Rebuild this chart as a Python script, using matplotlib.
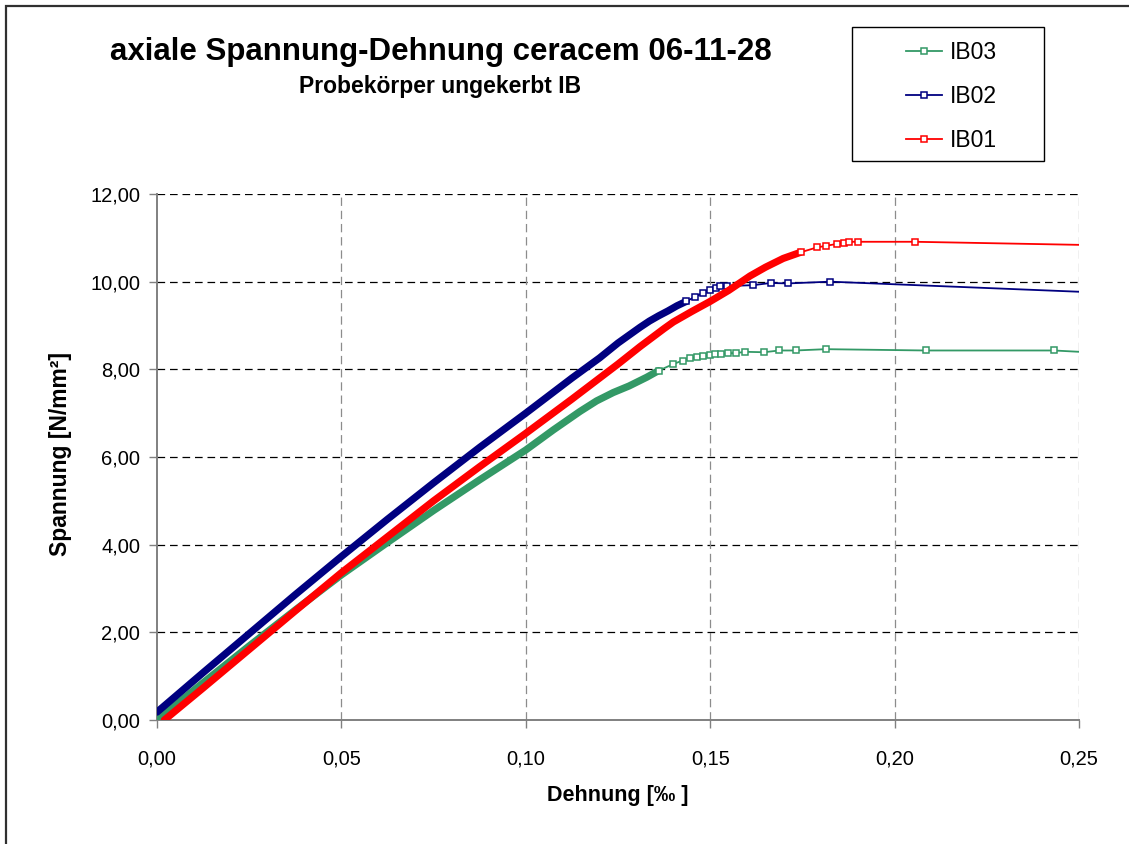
import matplotlib
matplotlib.use("Agg")
import matplotlib.pyplot as plt
from matplotlib.lines import Line2D
from matplotlib.patches import Rectangle
from matplotlib.ticker import FuncFormatter

plt.rcParams['font.family'] = ['Liberation Sans', 'DejaVu Sans']
plt.rcParams['lines.scale_dashes'] = False

# ---- data (strain in per mille, stress in N/mm2) ----
series_labels = ["IB03", "IB02", "IB01"]

ib03_strain = [0.000, 0.0125, 0.025, 0.0375, 0.050, 0.0625, 0.075, 0.0875, 0.100, 0.1075,
               0.1147, 0.1192, 0.1237, 0.128, 0.1328, 0.136, 0.140, 0.1425, 0.1445, 0.1465,
               0.148, 0.150, 0.1513, 0.153, 0.1548, 0.157, 0.1594, 0.1646, 0.1687, 0.1732,
               0.1813, 0.2084, 0.2432, 0.250]
ib03_stress = [0.00, 0.85, 1.69, 2.51, 3.31, 4.05, 4.78, 5.48, 6.16, 6.62,
               7.04, 7.28, 7.47, 7.62, 7.82, 7.97, 8.12, 8.20, 8.25, 8.28,
               8.30, 8.33, 8.34, 8.34, 8.37, 8.37, 8.40, 8.39, 8.43, 8.43,
               8.46, 8.43, 8.43, 8.40]

ib02_strain = [0.000, 0.0125, 0.025, 0.0375, 0.050, 0.0625, 0.075, 0.0875, 0.100, 0.1125,
               0.120, 0.125, 0.131, 0.1335, 0.136, 0.1385, 0.141, 0.1435, 0.146, 0.148,
               0.150, 0.1515, 0.1527, 0.1545, 0.1616, 0.1664, 0.1711, 0.1825, 0.250]
ib02_stress = [0.18, 1.08, 1.97, 2.86, 3.73, 4.58, 5.41, 6.22, 7.00, 7.80,
               8.26, 8.60, 8.96, 9.10, 9.22, 9.33, 9.45, 9.55, 9.66, 9.74,
               9.82, 9.86, 9.89, 9.90, 9.92, 9.97, 9.96, 10.00, 9.77]

ib01_strain = [0.002, 0.0125, 0.025, 0.0375, 0.050, 0.0625, 0.075, 0.0875, 0.100, 0.1125,
               0.125, 0.131, 0.1375, 0.140, 0.145, 0.150, 0.155, 0.158, 0.1608, 0.165,
               0.1698, 0.1745, 0.1789, 0.1815, 0.1843, 0.1862, 0.1876, 0.190, 0.2055, 0.250]
ib01_stress = [0.00, 0.73, 1.61, 2.49, 3.36, 4.18, 5.00, 5.78, 6.54, 7.32,
               8.12, 8.52, 8.93, 9.08, 9.32, 9.55, 9.80, 9.97, 10.13, 10.33,
               10.53, 10.67, 10.78, 10.82, 10.86, 10.89, 10.91, 10.91, 10.91, 10.84]

x_ticks = [0.00, 0.05, 0.10, 0.15, 0.20, 0.25]
y_ticks = [0, 2, 4, 6, 8, 10, 12]

title = "axiale Spannung-Dehnung ceracem 06-11-28"
subtitle = "Probekörper ungekerbt IB"
x_label = "Dehnung [‰ ]"
y_label = "Spannung [N/mm²]"

# ---- style ----
colors = {"IB03": "#339966", "IB02": "#000080", "IB01": "#FF0000"}
dense_count = {"IB03": 16, "IB02": 18, "IB01": 22}

W, H = 1129, 844
fig = plt.figure(figsize=(W / 100, H / 100), dpi=100)
fig.patch.set_facecolor("white")

# outer chart frame (only left/top visible, rest beyond the image)
fig.patches.append(Rectangle((6 / W, -0.05), 1.2, 1.05 - 6 / H, transform=fig.transFigure,
                             fill=False, edgecolor="#303030", linewidth=1.6, zorder=0))

ax = fig.add_axes([157 / W, 1 - 720 / H, (1079 - 157) / W, (720 - 194) / H])
ax.set_xlim(0, 0.25)
ax.set_ylim(0, 12)
ax.set_xticks(x_ticks)
ax.set_yticks(y_ticks)
fmt = FuncFormatter(lambda v, p: f"{v:.2f}".replace(".", ","))
ax.xaxis.set_major_formatter(fmt)
ax.yaxis.set_major_formatter(fmt)

for s in ["top", "right"]:
    ax.spines[s].set_visible(False)
for s in ["left", "bottom"]:
    ax.spines[s].set_color("#808080")
    ax.spines[s].set_linewidth(1.4)
    ax.spines[s].set_zorder(1)

ax.tick_params(axis="both", direction="out", length=6, width=1.0, color="#808080",
               labelsize=14.5, labelcolor="black")
ax.tick_params(axis="x", pad=15)
ax.tick_params(axis="y", pad=6)

# grid
for yv in y_ticks[1:]:
    ax.axhline(yv, color="black", lw=0.9, linestyle=(0, (5.5, 3.5)), zorder=0.5)
for xv in x_ticks[1:]:
    ax.axvline(xv, color="#8c8c8c", lw=0.9, linestyle=(0, (6, 3.5)), zorder=0.5)

data = {
    "IB03": (ib03_strain, ib03_stress),
    "IB02": (ib02_strain, ib02_stress),
    "IB01": (ib01_strain, ib01_stress),
}

handles = []
for i, lab in enumerate(series_labels):
    xs, ys = data[lab]
    c = colors[lab]
    n = dense_count[lab]
    z = 2 + i
    ax.plot(xs[:n], ys[:n], color=c, lw=5.2, solid_capstyle="round", zorder=z)
    ax.plot(xs, ys, color=c, lw=1.3, zorder=z)
    ax.plot(xs[n - 1:-1], ys[n - 1:-1], ls="none", marker="s", ms=4.2, mfc="white",
            mec=c, mew=1.1, zorder=z)
    handles.append(Line2D([], [], color=c, lw=1.3, marker="s", ms=4.2, mfc="white",
                          mec=c, mew=1.1))

# legend
fig.patches.append(Rectangle((852 / W, 1 - 161 / H), 192 / W, 134 / H, transform=fig.transFigure,
                             fill=False, edgecolor="black", linewidth=1.0, zorder=1))
fig.legend(handles, series_labels, loc="upper left", bbox_to_anchor=(906 / W, 1 - 41 / H),
           frameon=False, fontsize=16.5, borderpad=0, borderaxespad=0, handlelength=1.55,
           handletextpad=0.35, labelspacing=0.92, numpoints=1)

# titles and labels
fig.text(441 / W, 1 - 52 / H, title, ha="center", va="center", fontsize=22.5, fontweight="bold")
fig.text(440 / W, 1 - 87 / H, subtitle, ha="center", va="center", fontsize=16.5, fontweight="bold")
fig.text(618 / W, 1 - 796 / H, x_label, ha="center", va="center", fontsize=15.5, fontweight="bold")
fig.text(60 / W, 1 - 454 / H, y_label, ha="center", va="center", rotation=90,
         fontsize=16.5, fontweight="bold")

fig.savefig("out.png", dpi=100, facecolor="white")
